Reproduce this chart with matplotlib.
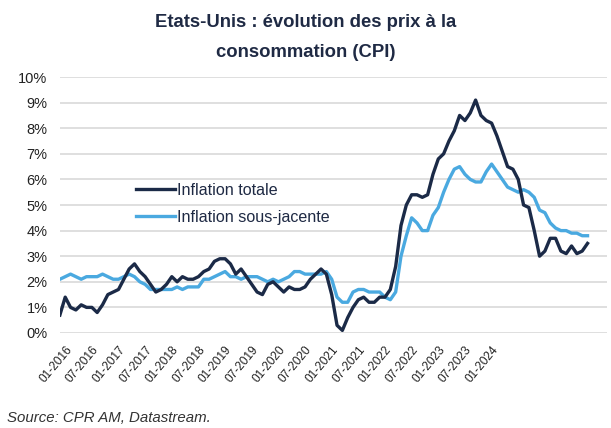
import matplotlib
matplotlib.use("Agg")
import matplotlib.pyplot as plt
from matplotlib import font_manager as fm

names = {f.name for f in fm.fontManager.ttflist}
FONT = "Liberation Sans Narrow" if "Liberation Sans Narrow" in names else "Liberation Sans"
plt.rcParams['font.family'] = [FONT, 'DejaVu Sans']

# Monthly YoY, Dec 2015 -> Mar 2024
total = [0.7,
         1.4, 1.0, 0.9, 1.1, 1.0, 1.0, 0.8, 1.1, 1.5, 1.6, 1.7, 2.1,
         2.5, 2.7, 2.4, 2.2, 1.9, 1.6, 1.7, 1.9, 2.2, 2.0, 2.2, 2.1,
         2.1, 2.2, 2.4, 2.5, 2.8, 2.9, 2.9, 2.7, 2.3, 2.5, 2.2, 1.9,
         1.6, 1.5, 1.9, 2.0, 1.8, 1.6, 1.8, 1.7, 1.7, 1.8, 2.1, 2.3,
         2.5, 2.3, 1.5, 0.3, 0.1, 0.6, 1.0, 1.3, 1.4, 1.2, 1.2, 1.4,
         1.4, 1.7, 2.6, 4.2, 5.0, 5.4, 5.4, 5.3, 5.4, 6.2, 6.8, 7.0,
         7.5, 7.9, 8.5, 8.3, 8.6, 9.1, 8.5, 8.3, 8.2, 7.7, 7.1, 6.5,
         6.4, 6.0, 5.0, 4.9, 4.0, 3.0, 3.2, 3.7, 3.7, 3.2, 3.1, 3.4,
         3.1, 3.2, 3.5]
core = [2.1,
        2.2, 2.3, 2.2, 2.1, 2.2, 2.2, 2.2, 2.3, 2.2, 2.1, 2.1, 2.2,
        2.3, 2.2, 2.0, 1.9, 1.7, 1.7, 1.7, 1.7, 1.7, 1.8, 1.7, 1.8,
        1.8, 1.8, 2.1, 2.1, 2.2, 2.3, 2.4, 2.2, 2.2, 2.1, 2.2, 2.2,
        2.2, 2.1, 2.0, 2.1, 2.0, 2.1, 2.2, 2.4, 2.4, 2.3, 2.3, 2.3,
        2.3, 2.4, 2.1, 1.4, 1.2, 1.2, 1.6, 1.7, 1.7, 1.6, 1.6, 1.6,
        1.4, 1.3, 1.6, 3.0, 3.8, 4.5, 4.3, 4.0, 4.0, 4.6, 4.9, 5.5,
        6.0, 6.4, 6.5, 6.2, 6.0, 5.9, 5.9, 6.3, 6.6, 6.3, 6.0, 5.7,
        5.6, 5.5, 5.6, 5.5, 5.3, 4.8, 4.7, 4.3, 4.1, 4.0, 4.0, 3.9,
        3.9, 3.8, 3.8]
tick_labels = ["01-2016", "07-2016", "01-2017", "07-2017", "01-2018", "07-2018",
               "01-2019", "07-2019", "01-2020", "07-2020", "01-2021", "07-2021",
               "01-2022", "07-2022", "01-2023", "07-2023", "01-2024"]
series_names = ["Inflation totale", "Inflation sous-jacente"]

NAVY = "#1b2a47"
BLUE = "#4aa9e0"
TXT = "#1f2a44"

fig = plt.figure(figsize=(6.11, 4.28), dpi=100)
ax = fig.add_axes([0.098, 0.222, 0.895, 0.598])

x = list(range(len(total)))
ax.plot(x, total, color=NAVY, lw=2.4, label=series_names[0], zorder=3)
ax.plot(x, core, color=BLUE, lw=2.4, label=series_names[1], zorder=2)

ax.set_ylim(0, 10)
ax.set_xlim(0, 102.6)
ax.set_yticks(range(0, 11))
ax.set_yticklabels([f"{v}%" for v in range(0, 11)])
ax.yaxis.grid(True, color="#d9d9d9", lw=1.2)
ax.set_axisbelow(True)
for s in ax.spines.values():
    s.set_visible(False)
ax.tick_params(axis='both', length=0, labelsize=10.5, colors="#222222")
ax.tick_params(axis='y', pad=9)

tick_pos = [1 + 5 * i for i in range(len(tick_labels))]
ax.set_xticks(tick_pos)
ax.set_xticklabels(tick_labels, rotation=50, ha='right', va='top',
                   rotation_mode='anchor', fontsize=8.6, color="#222222")
ax.tick_params(axis='x', pad=8)

leg = ax.legend(loc='upper left', bbox_to_anchor=(0.128, 0.612), frameon=False,
                fontsize=11.6, handlelength=2.4, handletextpad=0.12,
                labelspacing=0.75, labelcolor=TXT, borderaxespad=0)

fig.text(0.5, 0.968, "Etats-Unis : évolution des prix à la\nconsommation (CPI)",
         ha='center', va='top', fontsize=13.3, fontweight='bold', color=TXT,
         linespacing=2.05)
fig.text(0.011, 0.008, "Source: CPR AM, Datastream.", ha='left', va='bottom',
         fontsize=10.8, style='italic', color="#333333")

fig.savefig("out.png", dpi=100, facecolor="white")
